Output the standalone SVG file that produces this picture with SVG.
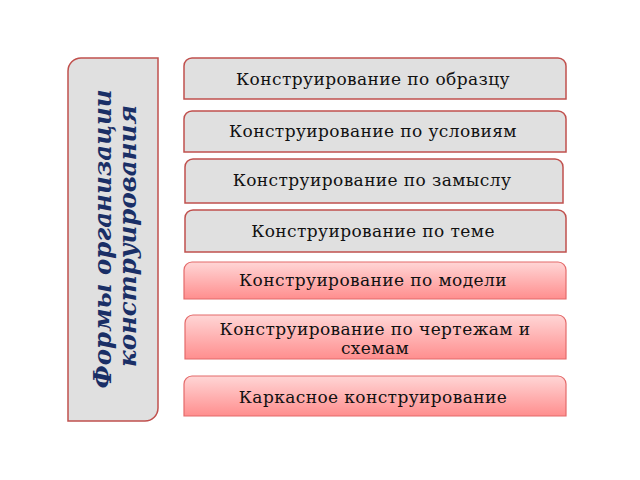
<svg xmlns="http://www.w3.org/2000/svg" width="640" height="480" viewBox="0 0 640 480">
<defs>
<linearGradient id="pink" x1="0" y1="0" x2="0" y2="1">
<stop offset="0" stop-color="#ffd6d6"/>
<stop offset="1" stop-color="#ff8e8e"/>
</linearGradient>
<style>
.gray{fill:#e0e0e0;stroke:#c0504d;stroke-width:1.5}
.pink{fill:url(#pink);stroke:#e46a6a;stroke-width:1.2}
.lbl{font-family:"DejaVu Serif","Liberation Serif",serif;font-size:17px;letter-spacing:0.4px;fill:#111;text-anchor:middle}
.side{font-family:"DejaVu Serif","Liberation Serif",serif;font-size:24.5px;font-weight:bold;font-style:italic;fill:#1a2f66;text-anchor:middle}
</style>
</defs>
<rect width="640" height="480" fill="#ffffff"/>
<g id="panel">
<path class="gray" d="M68,421 L68,71 A13,13 0 0 1 81,58 L158,58 L158,408 A13,13 0 0 1 145,421 Z"/>
<text class="side" transform="translate(111,239) rotate(-90)">Формы организации</text>
<text class="side" transform="translate(136,236) rotate(-90)">конструирования</text>
</g>
<g id="n1">
<path class="gray" d="M184,99 L184,66 A8,8 0 0 1 192,58 L558,58 A8,8 0 0 1 566,66 L566,99 Z"/>
<text class="lbl" x="373" y="85">Конструирование по образцу</text>
</g>
<g id="n2">
<path class="gray" d="M184,152 L184,119 A8,8 0 0 1 192,111 L558,111 A8,8 0 0 1 566,119 L566,152 Z"/>
<text class="lbl" x="373" y="137">Конструирование по условиям</text>
</g>
<g id="n3">
<path class="gray" d="M185,203 L185,167 A8,8 0 0 1 193,159 L555,159 A8,8 0 0 1 563,167 L563,203 Z"/>
<text class="lbl" x="372" y="186">Конструирование по замыслу</text>
</g>
<g id="n4">
<path class="gray" d="M185,252 L185,218 A8,8 0 0 1 193,210 L558,210 A8,8 0 0 1 566,218 L566,252 Z"/>
<text class="lbl" x="373" y="237">Конструирование по теме</text>
</g>
<g id="n5">
<path class="pink" d="M184,299 L184,270 A8,8 0 0 1 192,262 L558,262 A8,8 0 0 1 566,270 L566,299 Z"/>
<text class="lbl" x="373" y="286">Конструирование по модели</text>
</g>
<g id="n6">
<path class="pink" d="M185,359 L185,323 A8,8 0 0 1 193,315 L558,315 A8,8 0 0 1 566,323 L566,359 Z"/>
<text class="lbl" x="375" y="335">Конструирование по чертежам и</text>
<text class="lbl" x="375" y="354">схемам</text>
</g>
<g id="n7">
<path class="pink" d="M184,416 L184,384 A8,8 0 0 1 192,376 L558,376 A8,8 0 0 1 566,384 L566,416 Z"/>
<text class="lbl" x="373" y="403">Каркасное конструирование</text>
</g>
<g id="connectors"></g>
</svg>
